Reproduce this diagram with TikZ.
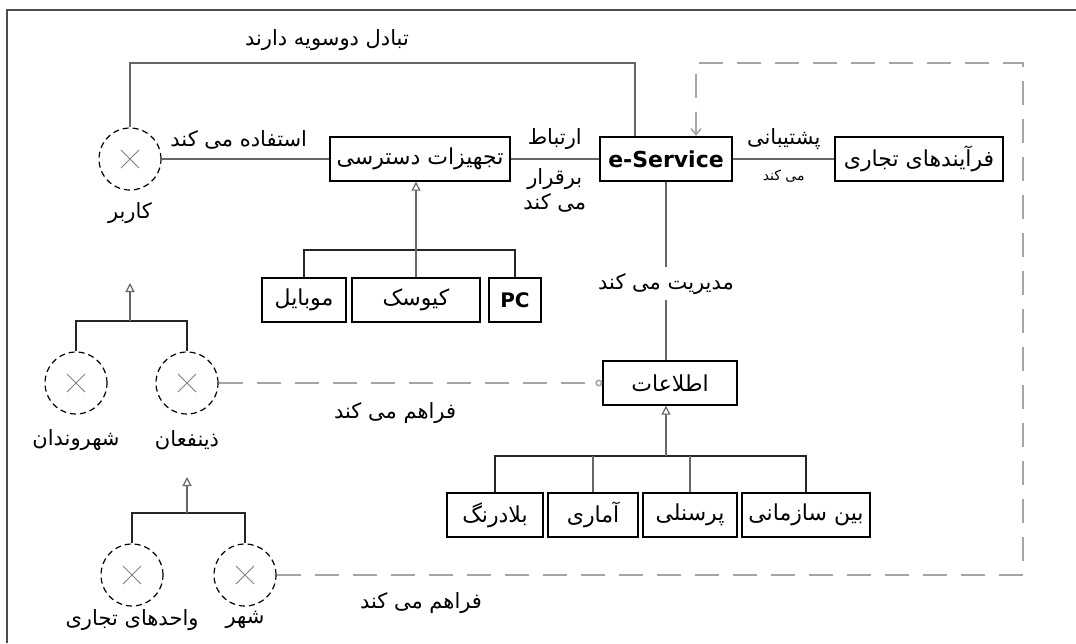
\documentclass[tikz,border=0pt]{standalone}
\usepackage{fontspec}
\setmainfont{DejaVu Sans}
\newfontfamily\fafont[Script=Arabic]{DejaVu Sans}
\TeXXeTstate=1
\newcommand{\fa}[1]{{\fafont\beginR #1\endR}}
\usetikzlibrary{arrows.meta}

\begin{document}
\begin{tikzpicture}[>=latex, x=0.5pt, y=-0.5pt,
    box/.style={draw, line width=0.7pt, minimum height=22pt, inner sep=2pt, font=\fontsize{11}{13}\selectfont},
    actor/.style={circle, draw, densely dashed, line width=0.6pt, minimum size=31pt, inner sep=0pt,
        path picture={\draw[gray, solid, line width=0.5pt] (path picture bounding box.center)
            ++(-4.5pt,-4.5pt) -- ++(9pt,9pt) ++(-9pt,0pt) -- ++(9pt,-9pt);}},
    lbl/.style={font=\fontsize{10.5}{12.5}\selectfont},
    link/.style={draw=gray!80!black, line width=0.6pt},
    bar/.style={draw=black!85, line width=1pt},
    gen/.style={link, -{Triangle[open, length=4.5pt, width=4.5pt]}},
    provide/.style={draw=gray!70, line width=0.8pt, dash pattern=on 12pt off 7pt,
        -{Straight Barb[length=3pt, width=5pt]}}]
    \useasboundingbox (0,0) rectangle (1076,643);
    \draw[gray!60!black, line width=0.9pt] (7,643) -- (7,10) -- (1076,10);

    % actors
    \node[actor] (user) at (130,159) {};
    \node[actor] (citizen) at (76,383) {};
    \node[actor] (stake) at (187,383) {};
    \node[actor] (firm) at (132,575) {};
    \node[actor] (city) at (245,575) {};
    \node[lbl] (user-l) at (130,213) {\fa{کاربر}};
    \node[lbl] (citizen-l) at (76,440) {\fa{شهروندان}};
    \node[lbl] (stake-l) at (187,440) {\fa{ذینفعان}};
    \node[lbl] (firm-l) at (132,620) {\fa{واحدهای تجاری}};
    \node[lbl] (city-l) at (245,620) {\fa{شهر}};

    % boxes
    \node[box, minimum width=90pt] (access) at (420,159) {\fa{تجهیزات دسترسی}};
    \node[box, minimum width=66pt, line width=1.1pt, font=\bfseries\fontsize{11}{13}\selectfont] (eserv) at (666,159) {e-Service};
    \node[box, minimum width=84pt] (proc) at (919,159) {\fa{فرآیندهای تجاری}};
    \node[box, minimum width=67pt] (info) at (670,383) {\fa{اطلاعات}};
    \node[box, minimum width=42pt] (mobile) at (304,300) {\fa{موبایل}};
    \node[box, minimum width=64pt] (kiosk) at (416,300) {\fa{کیوسک}};
    \node[box, minimum width=26pt, font=\bfseries] (pc) at (515,300) {PC};
    \foreach \n/\x/\w/\t in {rt/495/48/بلادرنگ, stat/593/45/آماری, staff/690/47/پرسنلی, inter/806/64/بین سازمانی}
        \node[box, minimum width=\w pt] (\n) at (\x,515) {\fa{\t}};

    % connectors
    \coordinate (xchg) at (635,63);
    \draw[link] (user.north) |- (xchg) -- (xchg |- eserv.north);
    \node[lbl] (xchg-l) at (327,40) {\fa{تبادل دوسویه دارند}};
    \draw[link] (user.east) -- node[lbl, above=1pt, pos=0.46] (use-l) {\fa{استفاده می کند}} (access.west);
    \draw[link] (access.east) -- node[lbl, above=1pt] (comm-l) {\fa{ارتباط}}
        node[lbl, below=1pt, align=center] (comm-l2) {\fa{برقرار}\\\fa{می کند}} (eserv.west);
    \draw[link] (eserv.east) -- node[lbl, above=1pt] (supp-l) {\fa{پشتیبانی}}
        node[below=2pt, font=\scriptsize] (supp-l2) {\fa{می کند}} (proc.west);
    \draw[link] (eserv.south) -- node[lbl, fill=white, inner sep=3pt, pos=0.57] (mng-l) {\fa{مدیریت می کند}} (eserv.south |- info.north);

    % trees
    \coordinate (devbar) at (416,250);
    \draw[bar] (mobile.north) |- (devbar) -| (pc.north);
    \draw[gen] (kiosk.north) -- (kiosk.north |- access.south);
    \coordinate (infobar) at (666,456);
    \draw[bar] (rt.north) |- (infobar) -| (inter.north);
    \foreach \n in {stat, staff}
        \draw[link] (\n.north) -- (\n.north |- infobar);
    \draw[gen] (infobar) -- (infobar |- info.south);
    \coordinate (userbar) at (130,321);
    \coordinate (usertip) at (130,283);
    \draw[bar] (citizen.north) |- (userbar) -| (stake.north);
    \draw[gen] (userbar) -- (usertip);
    \coordinate (stakebar) at (187,513);
    \coordinate (staketip) at (187,477);
    \draw[bar] (firm.north) |- (stakebar) -| (city.north);
    \draw[gen] (stakebar) -- (staketip);

    % provides
    \draw[provide, -{Circle[open, length=3.5pt]}] (stake.east) -- node[lbl, below=6pt, pos=0.46] (prov-l) {\fa{فراهم می کند}} (info.west);
    \coordinate (bound) at (1023,63);
    \coordinate (svcin) at (696,0);
    \draw[provide] (city.east) -| (bound) -| (svcin |- eserv.north);
    \node[lbl] (prov-l2) at (421,603) {\fa{فراهم می کند}};
\end{tikzpicture}
\end{document}
